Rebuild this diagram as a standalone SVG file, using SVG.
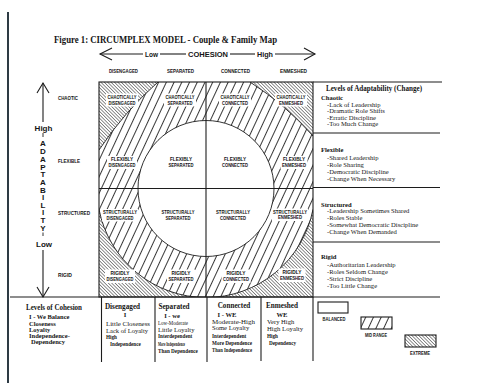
<svg xmlns="http://www.w3.org/2000/svg" width="488" height="383" viewBox="0 0 488 383">
<style>
.ser{font-family:"Liberation Serif","Times New Roman",serif;fill:#151515}
.b{font-weight:bold}
.sans{font-family:"Liberation Sans",Arial,sans-serif;font-weight:bold;fill:#151515}
.cl{font-family:"Liberation Sans",Arial,sans-serif;font-weight:bold;font-size:5px;fill:#151515;text-anchor:middle}
.rl{font-family:"Liberation Sans",Arial,sans-serif;font-weight:bold;font-size:5.2px;fill:#151515}
.ln{stroke:#1c1c1c;stroke-width:1.1;fill:none}
.th{stroke:#1c1c1c;stroke-width:0.9;fill:none}
.wb{fill:#fff}
.it{font-size:6.6px}
.sm{font-size:5.2px;font-weight:bold}
.mid{text-anchor:middle}
</style>
<defs>
<pattern id="midh" patternUnits="userSpaceOnUse" width="7" height="10" patternTransform="rotate(25)">
<rect width="7" height="10" fill="#fff"/>
<line x1="3.5" y1="-1" x2="3.5" y2="11" stroke="#222" stroke-width="0.9"/>
</pattern>
<pattern id="exth" patternUnits="userSpaceOnUse" width="2.4" height="10" patternTransform="rotate(-45)">
<rect width="2.4" height="10" fill="#fff"/>
<line x1="1.2" y1="-1" x2="1.2" y2="11" stroke="#333" stroke-width="0.6"/>
</pattern>
<clipPath id="grid"><rect x="99" y="82" width="214" height="215"/></clipPath>
</defs>
<rect width="488" height="383" fill="#fff"/>
<line x1="8" y1="12" x2="8" y2="383" stroke="#2e3b44" stroke-width="2"/>

<text class="ser b" x="54" y="42.5" font-size="10" textLength="223" lengthAdjust="spacingAndGlyphs">Figure 1: CIRCUMPLEX MODEL - Couple &amp; Family Map</text>

<g id="regions" clip-path="url(#grid)">
<path d="M99 82H313V297H99Z M99 150Q124.5 111.6 158 82L158 70L250 70L250 82Q285.7 104.8 313 136L325 136L325 209.3L313 209.3A109 109 0 0 1 99 209.3Z" fill="url(#exth)" fill-rule="evenodd"/>
<path d="M99 150Q124.5 111.6 158 82L158 70L250 70L250 82Q285.7 104.8 313 136L325 136L325 209.3L313 209.3A109 109 0 0 1 99 209.3Z M274 188.5A68 68 0 1 0 138 188.5A68 68 0 1 0 274 188.5Z" fill="url(#midh)" fill-rule="evenodd"/>
<circle cx="206" cy="188.5" r="68" fill="#fff" class="th"/>
<path d="M99 150Q124.5 111.6 158 82M250 82Q285.7 104.8 313 136M313 209.3A109 109 0 0 1 99 209.3" class="th"/>
<line x1="206" y1="82" x2="206" y2="297" class="ln"/>
<line x1="99" y1="188.5" x2="313" y2="188.5" class="ln"/>
</g>
<rect x="99" y="82" width="214" height="215" class="ln"/>

<g id="axes">
<g id="cohesion-axis">
<line x1="100" y1="54" x2="143" y2="54" class="ln"/>
<line x1="160" y1="54" x2="186" y2="54" class="ln"/>
<line x1="230" y1="54" x2="255" y2="54" class="ln"/>
<line x1="275" y1="54" x2="315" y2="54" class="ln"/>
<polyline points="112,48 100,54 112,60" class="ln"/>
<polyline points="304,48 315,54 304,60" class="ln"/>
<text class="sans" x="145" y="57" font-size="8" textLength="13" lengthAdjust="spacingAndGlyphs">Low</text>
<text class="sans" x="188" y="57" font-size="8" textLength="40" lengthAdjust="spacingAndGlyphs">COHESION</text>
<text class="sans" x="257" y="57" font-size="8" textLength="16" lengthAdjust="spacingAndGlyphs">High</text>
</g>
<g id="adaptability-axis">
<line x1="43" y1="83" x2="43" y2="122" class="ln"/>
<polyline points="37,93 43,83 49,93" class="ln"/>
<text class="sans mid" x="43.5" y="131" font-size="8">High</text>
<line x1="43" y1="133" x2="43" y2="137" class="th"/>
<g class="sans" font-size="8" text-anchor="middle">
<text x="43" y="146">A</text><text x="43" y="154">D</text><text x="43" y="161.5">A</text>
<text x="43" y="169.5">P</text><text x="43" y="177">T</text><text x="43" y="185">A</text>
<text x="43" y="192.5">B</text><text x="43" y="200">I</text><text x="43" y="207.5">L</text>
<text x="43" y="215">I</text><text x="43" y="222.5">T</text><text x="43" y="230.5">Y</text>
</g>
<line x1="43" y1="232.5" x2="43" y2="236" class="th"/>
<text class="sans mid" x="44" y="246.5" font-size="8">Low</text>
<line x1="43" y1="250" x2="43" y2="297" class="ln"/>
<polyline points="37,287 43,297 49,287" class="ln"/>
</g>
</g>

<g id="col-labels" class="rl">
<text x="109" y="73" textLength="29" lengthAdjust="spacingAndGlyphs">DISENGAGED</text>
<text x="167" y="73" textLength="27" lengthAdjust="spacingAndGlyphs">SEPARATED</text>
<text x="221" y="73" textLength="29" lengthAdjust="spacingAndGlyphs">CONNECTED</text>
<text x="280" y="73" textLength="27" lengthAdjust="spacingAndGlyphs">ENMESHED</text>
</g>
<g id="row-labels" class="rl">
<text x="58" y="99.8" textLength="20" lengthAdjust="spacingAndGlyphs">CHAOTIC</text>
<text x="58" y="162.5" textLength="22" lengthAdjust="spacingAndGlyphs">FLEXIBLE</text>
<text x="58" y="215" textLength="32" lengthAdjust="spacingAndGlyphs">STRUCTURED</text>
<text x="58" y="277" textLength="14" lengthAdjust="spacingAndGlyphs">RIGID</text>
</g>

<g id="cells">
<g id="chaotically-disengaged"><rect class="wb" x="106" y="93.5" width="32" height="13"/><text class="cl" x="122" y="98.8" textLength="29" lengthAdjust="spacingAndGlyphs">CHAOTICALLY</text><text class="cl" x="122" y="104.8" textLength="27" lengthAdjust="spacingAndGlyphs">DISENGAGED</text></g>
<g id="chaotically-separated"><rect class="wb" x="164" y="93.5" width="32" height="13"/><text class="cl" x="180" y="98.8" textLength="29" lengthAdjust="spacingAndGlyphs">CHAOTICALLY</text><text class="cl" x="180" y="104.8" textLength="25" lengthAdjust="spacingAndGlyphs">SEPARATED</text></g>
<g id="chaotically-connected"><rect class="wb" x="219" y="93.5" width="32" height="13"/><text class="cl" x="235" y="98.8" textLength="29" lengthAdjust="spacingAndGlyphs">CHAOTICALLY</text><text class="cl" x="235" y="104.8" textLength="26" lengthAdjust="spacingAndGlyphs">CONNECTED</text></g>
<g id="chaotically-enmeshed"><rect class="wb" x="275" y="93.5" width="32" height="13"/><text class="cl" x="291" y="98.8" textLength="29" lengthAdjust="spacingAndGlyphs">CHAOTICALLY</text><text class="cl" x="291" y="104.8" textLength="24" lengthAdjust="spacingAndGlyphs">ENMESHED</text></g>

<g id="flexibly-disengaged"><rect class="wb" x="107" y="156" width="30" height="13"/><text class="cl" x="122" y="161.3" textLength="22" lengthAdjust="spacingAndGlyphs">FLEXIBLY</text><text class="cl" x="122" y="167.3" textLength="27" lengthAdjust="spacingAndGlyphs">DISENGAGED</text></g>
<g id="flexibly-separated"><text class="cl" x="181" y="161.3" textLength="22" lengthAdjust="spacingAndGlyphs">FLEXIBLY</text><text class="cl" x="181" y="167.3" textLength="25" lengthAdjust="spacingAndGlyphs">SEPARATED</text></g>
<g id="flexibly-connected"><text class="cl" x="235" y="161.3" textLength="22" lengthAdjust="spacingAndGlyphs">FLEXIBLY</text><text class="cl" x="235" y="167.3" textLength="26" lengthAdjust="spacingAndGlyphs">CONNECTED</text></g>
<g id="flexibly-enmeshed"><rect class="wb" x="280.5" y="156" width="27" height="13"/><text class="cl" x="294" y="161.3" textLength="22" lengthAdjust="spacingAndGlyphs">FLEXIBLY</text><text class="cl" x="294" y="167.3" textLength="24" lengthAdjust="spacingAndGlyphs">ENMESHED</text></g>

<g id="structurally-disengaged"><rect class="wb" x="102" y="209" width="36" height="12.5"/><text class="cl" x="120" y="214.3" textLength="34" lengthAdjust="spacingAndGlyphs">STRUCTURALLY</text><text class="cl" x="120" y="220" textLength="27" lengthAdjust="spacingAndGlyphs">DISENGAGED</text></g>
<g id="structurally-separated"><text class="cl" x="178" y="214.3" textLength="33" lengthAdjust="spacingAndGlyphs">STRUCTURALLY</text><text class="cl" x="178" y="220" textLength="25" lengthAdjust="spacingAndGlyphs">SEPARATED</text></g>
<g id="structurally-connected"><text class="cl" x="233" y="214.3" textLength="34" lengthAdjust="spacingAndGlyphs">STRUCTURALLY</text><text class="cl" x="233" y="220" textLength="26" lengthAdjust="spacingAndGlyphs">CONNECTED</text></g>
<g id="structurally-enmeshed"><rect class="wb" x="272" y="208.5" width="36" height="12.5"/><text class="cl" x="290" y="213.6" textLength="34" lengthAdjust="spacingAndGlyphs">STRUCTURALLY</text><text class="cl" x="290" y="219.3" textLength="24" lengthAdjust="spacingAndGlyphs">ENMESHED</text></g>

<g id="rigidly-disengaged"><rect class="wb" x="105" y="269.5" width="30" height="13.5"/><text class="cl" x="120" y="274.8" textLength="19" lengthAdjust="spacingAndGlyphs">RIGIDLY</text><text class="cl" x="120" y="281.3" textLength="27" lengthAdjust="spacingAndGlyphs">DISENGAGED</text></g>
<g id="rigidly-separated"><rect class="wb" x="167" y="269.5" width="28" height="13.5"/><text class="cl" x="181" y="274.8" textLength="19" lengthAdjust="spacingAndGlyphs">RIGIDLY</text><text class="cl" x="181" y="281.3" textLength="25" lengthAdjust="spacingAndGlyphs">SEPARATED</text></g>
<g id="rigidly-connected"><rect class="wb" x="221.5" y="269.5" width="29" height="13.5"/><text class="cl" x="236" y="274.8" textLength="19" lengthAdjust="spacingAndGlyphs">RIGIDLY</text><text class="cl" x="236" y="281.3" textLength="26" lengthAdjust="spacingAndGlyphs">CONNECTED</text></g>
<g id="rigidly-enmeshed"><rect class="wb" x="278.5" y="268.5" width="27" height="13.5"/><text class="cl" x="292" y="273.8" textLength="19" lengthAdjust="spacingAndGlyphs">RIGIDLY</text><text class="cl" x="292" y="280.3" textLength="24" lengthAdjust="spacingAndGlyphs">ENMESHED</text></g>
</g>

<g id="adaptability-panel">
<line x1="313" y1="82" x2="442" y2="82" class="ln"/>
<line x1="313" y1="133" x2="440" y2="133" class="ln"/>
<line x1="313" y1="187.5" x2="440" y2="187.5" class="ln"/>
<line x1="313" y1="242" x2="440" y2="242" class="ln"/>
<line x1="10" y1="297" x2="440" y2="297" class="ln"/>
<text class="ser b" x="326" y="90.5" font-size="7.5" textLength="96" lengthAdjust="spacingAndGlyphs">Levels of Adaptability (Change)</text>
<g id="chaotic-list" class="ser it">
<text class="b" x="321" y="99.5">Chaotic</text>
<text x="327" y="106.5">-Lack of Leadership</text>
<text x="327" y="113">-Dramatic Role Shifts</text>
<text x="327" y="119.5">-Erratic Discipline</text>
<text x="327" y="126">-Too Much Change</text>
</g>
<g id="flexible-list" class="ser it">
<text class="b" x="321" y="152">Flexible</text>
<text x="327" y="160">-Shared Leadership</text>
<text x="327" y="166.5">-Role Sharing</text>
<text x="327" y="173.5">-Democratic Discipline</text>
<text x="327" y="180.5">-Change When Necessary</text>
</g>
<g id="structured-list" class="ser it">
<text class="b" x="321" y="206.5">Structured</text>
<text x="327" y="213.3">-Leadership Sometimes Shared</text>
<text x="327" y="220">-Roles Stable</text>
<text x="327" y="227">-Somewhat Democratic Discipline</text>
<text x="327" y="234">-Change When Demanded</text>
</g>
<g id="rigid-list" class="ser it">
<text class="b" x="321" y="259">Rigid</text>
<text x="327" y="266.8">-Authoritarian Leadership</text>
<text x="327" y="273.7">-Roles Seldom Change</text>
<text x="327" y="280.8">-Strict Discipline</text>
<text x="327" y="288">-Too Little Change</text>
</g>
</g>

<g id="cohesion-table">
<line x1="101.5" y1="297" x2="101.5" y2="362" class="ln"/>
<line x1="155" y1="297" x2="155" y2="362" class="ln"/>
<line x1="207" y1="297" x2="207" y2="362" class="ln"/>
<line x1="261" y1="297" x2="261" y2="361" class="ln"/>
<line x1="313" y1="297" x2="313" y2="361" class="ln"/>
<g id="levels-of-cohesion" class="ser">
<text class="b" x="26" y="309.5" font-size="7.3" textLength="56" lengthAdjust="spacingAndGlyphs">Levels of Cohesion</text>
<g class="b" font-size="6.5">
<text x="29" y="319.3">I - We Balance</text>
<text x="29" y="326">Closeness</text>
<text x="29" y="331.8">Loyalty</text>
<text x="29" y="337.6">Independence-</text>
<text x="31" y="343.5">Dependency</text>
</g>
</g>
<g id="disengaged" class="ser">
<text class="b mid" x="122.5" y="308.5" font-size="7.2">Disengaged</text>
<text class="b mid it" x="125" y="317">I</text>
<text class="it" x="106" y="326" textLength="44" lengthAdjust="spacingAndGlyphs">Little Closeness</text>
<text class="it" x="106" y="332.6" textLength="42" lengthAdjust="spacingAndGlyphs">Lack of Loyalty</text>
<text class="sm" x="106" y="339">High</text>
<text class="sm" x="110" y="346">Independence</text>
</g>
<g id="separated" class="ser">
<text class="b mid" x="174" y="308.5" font-size="7.2">Separated</text>
<text class="b mid it" x="172" y="317.8">I - we</text>
<text class="it" x="158" y="324.6" textLength="30" lengthAdjust="spacingAndGlyphs">Low-Moderate</text>
<text class="it" x="158" y="331.5">Little Loyalty</text>
<text class="sm" x="158" y="338">Interdependent</text>
<text class="sm" x="158" y="345.5" textLength="27" lengthAdjust="spacingAndGlyphs">More Independence</text>
<text class="sm" x="158" y="353">Than Dependence</text>
</g>
<g id="connected" class="ser">
<text class="b mid" x="234" y="307.5" font-size="7.2">Connected</text>
<text class="b mid it" x="227" y="316.8">I - WE</text>
<text class="it" x="212" y="323.5" textLength="43" lengthAdjust="spacingAndGlyphs">Moderate-High</text>
<text class="it" x="212" y="330.4">Some Loyalty</text>
<text class="sm" x="212" y="337.5">Interdependent</text>
<text class="sm" x="212" y="344.5">More Dependence</text>
<text class="sm" x="212" y="351.5" textLength="40" lengthAdjust="spacingAndGlyphs">Than Independence</text>
</g>
<g id="enmeshed" class="ser">
<text class="b mid" x="282" y="307.5" font-size="7.2">Enmeshed</text>
<text class="b mid it" x="282" y="316.8">WE</text>
<text class="it" x="267" y="324.3">Very High</text>
<text class="it" x="267" y="331.3" textLength="36" lengthAdjust="spacingAndGlyphs">High Loyalty</text>
<text class="sm" x="267" y="338">High</text>
<text class="sm" x="269" y="345">Dependency</text>
</g>
</g>

<g id="legend">
<g id="legend-balanced"><rect x="318" y="302" width="30" height="11" fill="#fff" class="ln"/><text class="cl" x="334" y="320.5" font-size="4.5" textLength="23" lengthAdjust="spacingAndGlyphs">BALANCED</text></g>
<g id="legend-mid"><rect x="361" y="317" width="31" height="12" fill="url(#midh)" stroke="#1c1c1c" stroke-width="1.1"/><text class="cl" x="376" y="337" font-size="4.5" textLength="22" lengthAdjust="spacingAndGlyphs">MID RANGE</text></g>
<g id="legend-extreme"><rect x="405" y="335" width="31" height="12" fill="url(#exth)" stroke="#1c1c1c" stroke-width="1.1"/><text class="cl" x="420" y="355" font-size="4.5" textLength="20" lengthAdjust="spacingAndGlyphs">EXTREME</text></g>
</g>
</svg>
